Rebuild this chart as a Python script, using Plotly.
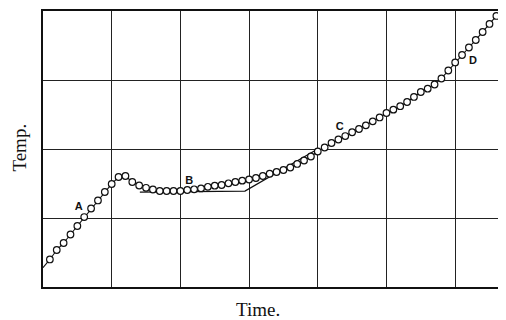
import plotly.graph_objects as go

# Time (grid units) and temperature (grid units) of the observed points
time_pts = [round(0.1 * i, 1) for i in range(1, 67)]
temp_pts = [0.399, 0.536, 0.638, 0.761, 0.884, 1.014, 1.138, 1.254, 1.377, 1.493,
            1.594, 1.609, 1.522, 1.471, 1.438, 1.413, 1.391, 1.391, 1.391, 1.391,
            1.406, 1.416, 1.429, 1.452, 1.468, 1.478, 1.503, 1.522, 1.541, 1.558,
            1.580, 1.609, 1.641, 1.667, 1.696, 1.732, 1.783, 1.833, 1.891, 1.964,
            2.022, 2.087, 2.138, 2.188, 2.243, 2.290, 2.343, 2.401, 2.457, 2.522,
            2.570, 2.620, 2.681, 2.754, 2.826, 2.874, 2.935, 3.022, 3.138, 3.254,
            3.362, 3.471, 3.580, 3.696, 3.812, 3.928]
curve_start_time = [0.0]
curve_start_temp = [0.28]

# Straight reference line (B to C)
ref_time = [1.41, 2.94, 4.0]
ref_temp = [1.375, 1.39, 2.0]

# Point labels
label_text = ["A", "B", "C", "D"]
label_time = [0.52, 2.13, 4.32, 6.26]
label_temp = [1.15, 1.53, 2.32, 3.27]

fig = go.Figure()
fig.add_trace(go.Scatter(x=curve_start_time + time_pts, y=curve_start_temp + temp_pts,
                         mode="lines", line=dict(color="#111", width=1.1),
                         hoverinfo="skip", showlegend=False))
fig.add_trace(go.Scatter(x=ref_time, y=ref_temp, mode="lines",
                         line=dict(color="#111", width=1.3), showlegend=False))
fig.add_trace(go.Scatter(x=time_pts, y=temp_pts, mode="markers",
                         marker=dict(symbol="circle", size=6.6, color="white",
                                     line=dict(color="#111", width=1.2)),
                         showlegend=False))
fig.add_trace(go.Scatter(x=label_time, y=label_temp, mode="text", text=label_text,
                         textfont=dict(family="Liberation Sans", size=11, color="#111"),
                         texttemplate="<b>%{text}</b>", showlegend=False))

# The page body has an 8 px default margin, so the figure is sized to fill the rest.
fig.update_layout(
    width=498, height=312,
    margin=dict(l=35, r=0, t=3, b=33),
    paper_bgcolor="white", plot_bgcolor="white",
    xaxis=dict(range=[0, 6.74], dtick=1, tick0=0, showticklabels=False, ticks="",
               showgrid=True, gridcolor="#222", gridwidth=1, zeroline=False,
               showline=True, linecolor="#111", linewidth=1.5, mirror=True),
    yaxis=dict(range=[0, 4], dtick=1, tick0=0, showticklabels=False, ticks="",
               showgrid=True, gridcolor="#222", gridwidth=1, zeroline=False,
               showline=True, linecolor="#111", linewidth=1.5, mirror=False),
    annotations=[
        dict(text="Time.", xref="paper", yref="paper", x=0.464, y=0, yshift=-22,
             xanchor="center", yanchor="middle", showarrow=False,
             font=dict(family="Liberation Serif", size=19, color="#111")),
        dict(text="Temp.", xref="paper", yref="paper", x=-0.0497, y=0.505,
             xanchor="center", yanchor="middle", showarrow=False, textangle=-90,
             font=dict(family="Liberation Serif", size=19, color="#111")),
    ],
)

fig.write_html("out.html")
